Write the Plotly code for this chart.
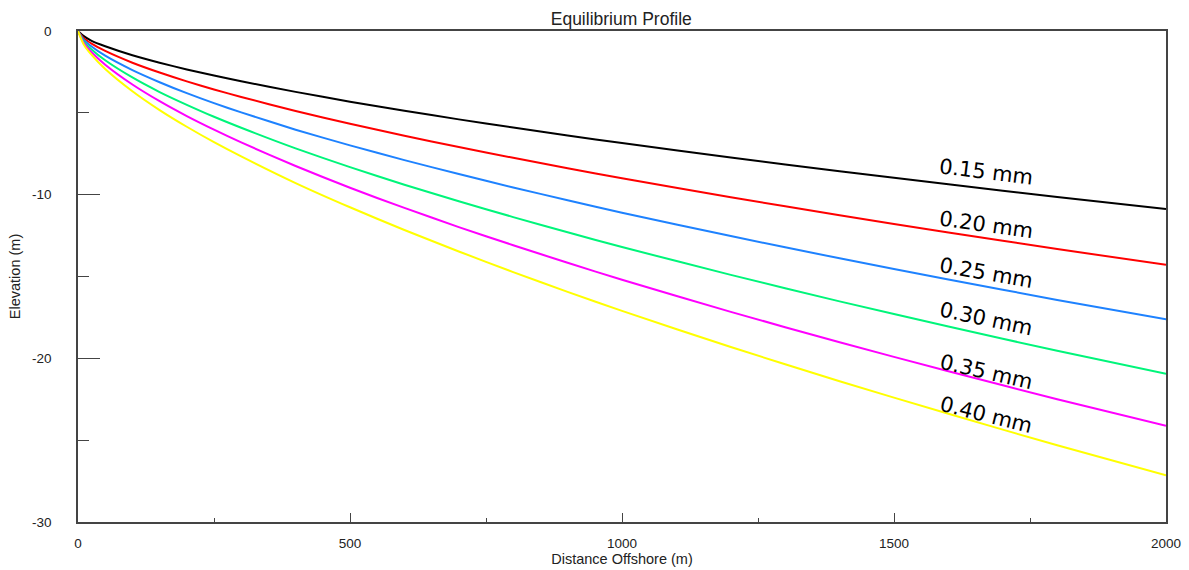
import plotly.graph_objects as go

# Distance offshore (m)
distance = [0, 10, 25, 50, 100, 150, 200, 250, 300, 400, 500, 600, 700, 800, 900, 1000, 1200, 1400, 1600, 1800, 2000]

# Elevation (m) per grain size
elev_015 = [0, -0.3, -0.6, -0.93, -1.48, -1.94, -2.35, -2.72, -3.07, -3.72, -4.32, -4.87, -5.4, -5.9, -6.38, -6.85, -7.73, -8.57, -9.37, -10.14, -10.88]
elev_020 = [0, -0.42, -0.77, -1.22, -1.94, -2.54, -3.08, -3.57, -4.03, -4.89, -5.67, -6.4, -7.09, -7.75, -8.38, -9.0, -10.16, -11.26, -12.31, -13.32, -14.29]
elev_025 = [0, -0.51, -0.95, -1.51, -2.39, -3.13, -3.8, -4.41, -4.97, -6.03, -6.99, -7.89, -8.74, -9.56, -10.34, -11.1, -12.53, -13.89, -15.18, -16.43, -17.62]
elev_030 = [0, -0.61, -1.13, -1.79, -2.84, -3.73, -4.51, -5.24, -5.91, -7.17, -8.32, -9.39, -10.4, -11.37, -12.3, -13.2, -14.9, -16.52, -18.06, -19.54, -20.95]
elev_035 = [0, -0.71, -1.3, -2.06, -3.27, -4.29, -5.2, -6.03, -6.81, -8.25, -9.58, -10.81, -11.98, -13.09, -14.16, -15.2, -17.16, -19.02, -20.79, -22.5, -24.12]
elev_040 = [0, -0.79, -1.46, -2.32, -3.68, -4.83, -5.85, -6.79, -7.66, -9.29, -10.77, -12.16, -13.47, -14.73, -15.94, -17.1, -19.31, -21.4, -23.39, -25.31, -27.14]

labels = ["0.15 mm", "0.20 mm", "0.25 mm", "0.30 mm", "0.35 mm", "0.40 mm"]
series = [elev_015, elev_020, elev_025, elev_030, elev_035, elev_040]
colors = ["#000000", "#FF0000", "#1E82FF", "#00F57A", "#FF00FF", "#FFFF00"]

# label placement (data coords) and angle
label_x = [1670, 1670, 1670, 1670, 1670, 1670]
label_y = [-8.6, -11.85, -14.8, -17.6, -20.85, -23.45]
label_angle = [7, 8, 10, 12, 13, 14]

x_ticks = [0, 500, 1000, 1500, 2000]
x_ticktext = ["0", "500", "1000", "1500", "2000"]
y_ticks = [0, -10, -20, -30]
y_ticktext = ["0", "-10", "-20", "-30"]

fig = go.Figure()
for name, ys, c in zip(labels, series, colors):
    fig.add_trace(go.Scatter(x=distance, y=ys, mode="lines", name=name,
                             line=dict(color=c, width=2, shape="spline", smoothing=0.6),
                             showlegend=False, hoverinfo="skip"))

for lab, lx, ly, ang in zip(labels, label_x, label_y, label_angle):
    fig.add_annotation(x=lx, y=ly, text=lab, showarrow=False, textangle=ang,
                       font=dict(family="DejaVu Sans", size=21, color="#000000"),
                       xanchor="center", yanchor="middle")

tick_font = dict(family="Liberation Sans, Arial", size=13.5, color="#222222")
title_font = dict(family="Liberation Sans, Arial", size=14.5, color="#222222")

fig.update_layout(
    width=1189, height=570,
    margin=dict(l=78, r=23, t=31, b=48, autoexpand=False),
    paper_bgcolor="white", plot_bgcolor="white",
    title=dict(text="Equilibrium Profile", x=0.5225, xanchor="center",
               y=1 - 18.5 / 570, yanchor="middle", yref="container",
               font=dict(family="Liberation Sans, Arial", size=17.5, color="#222222")),
    xaxis=dict(range=[0, 2000], tickvals=x_ticks, ticktext=x_ticktext,
               ticks="inside", ticklen=9, tickwidth=1.3, tickcolor="#444444",
               minor=dict(tickvals=[250, 750, 1250, 1750], ticks="inside", ticklen=4,
                          tickwidth=1.3, tickcolor="#444444", showgrid=False),
               showline=True, linecolor="#444444", linewidth=1.5, mirror=True,
               showgrid=False, zeroline=False, tickfont=tick_font, automargin=False,
               ticklabelstandoff=8,
               title=dict(text="Distance Offshore (m)", font=title_font, standoff=4)),
    yaxis=dict(range=[-30, 0], tickvals=y_ticks, ticktext=y_ticktext,
               ticks="inside", ticklen=22, tickwidth=1.3, tickcolor="#444444",
               minor=dict(tickvals=[-5, -15, -25], ticks="inside", ticklen=11,
                          tickwidth=1.3, tickcolor="#444444", showgrid=False),
               showline=True, linecolor="#444444", linewidth=1.5, mirror=True,
               showgrid=False, zeroline=False, tickfont=tick_font, automargin=False,
               ticklabelstandoff=22,
               title=dict(text="Elevation (m)", font=title_font, standoff=8)),
)

fig.write_html("out.html")
